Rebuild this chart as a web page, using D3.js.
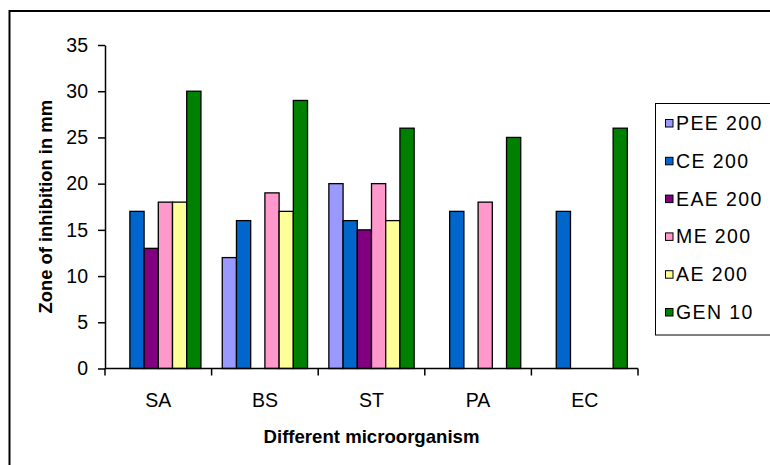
<!DOCTYPE html>
<html>
<head>
<meta charset="utf-8">
<script src="https://cdn.jsdelivr.net/npm/d3@7"></script>
<style>
  html, body { margin: 0; padding: 0; background: #fff; }
  svg { display: block; font-family: "Liberation Sans", Arial, sans-serif; }
</style>
</head>
<body>
<svg id="chart" width="770" height="465"></svg>
<script>
const categories = ["SA", "BS", "ST", "PA", "EC"];
const seriesNames = ["PEE 200", "CE 200", "EAE 200", "ME 200", "AE 200", "GEN 10"];
const peeValues = [null, 12, 20, null, null];
const ceValues  = [17, 16, 16, 17, 17];
const eaeValues = [13, null, 15, null, null];
const meValues  = [18, 19, 20, 18, null];
const aeValues  = [18, 17, 16, null, null];
const genValues = [30, 29, 26, 25, 26];
const yTicks = [0, 5, 10, 15, 20, 25, 30, 35];
const colors = ["#9999FF", "#0066CC", "#800080", "#FF99CC", "#FFFF99", "#008000"];

const seriesValues = [peeValues, ceValues, eaeValues, meValues, aeValues, genValues];

const svg = d3.select("#chart");

// outer chart border
svg.append("rect")
  .attr("x", 9.5).attr("y", 11)
  .attr("width", 800).attr("height", 500)
  .attr("fill", "#fff").attr("stroke", "#000").attr("stroke-width", 2);

const plotLeft = 105, plotRight = 638, plotTop = 45, plotBottom = 368.5;

const x = d3.scaleBand().domain(categories).range([plotLeft, plotRight]).padding(0);
const y = d3.scaleLinear().domain([0, 35]).range([plotBottom, plotTop]);

const bw = x.bandwidth() / 7.5;
const x1 = d3.scaleBand().domain(seriesNames)
  .range([0.75 * bw, x.bandwidth() - 0.75 * bw]).padding(0);

// bars
const barData = [];
seriesNames.forEach((s, si) => {
  categories.forEach((c, ci) => {
    const v = seriesValues[si][ci];
    if (v !== null && v !== undefined) barData.push({ s, c, v, color: colors[si] });
  });
});

svg.append("g").selectAll("rect")
  .data(barData)
  .join("rect")
  .attr("x", d => x(d.c) + x1(d.s))
  .attr("y", d => y(d.v))
  .attr("width", x1.bandwidth())
  .attr("height", d => y(0) - y(d.v))
  .attr("fill", d => d.color)
  .attr("stroke", "#000")
  .attr("stroke-width", 1.3);

// y axis
const yAxis = svg.append("g")
  .attr("transform", `translate(${plotLeft},0)`)
  .call(d3.axisLeft(y).tickValues(yTicks).tickSize(7).tickPadding(10).tickSizeOuter(0));
yAxis.select(".domain").attr("stroke", "#000").attr("stroke-width", 1.5);
yAxis.selectAll(".tick line").attr("stroke", "#000").attr("stroke-width", 1.5);
yAxis.selectAll(".tick text")
  .attr("font-size", "19.5px").attr("fill", "#000")
  .attr("font-family", "'Liberation Sans', Arial, sans-serif");

// x axis
const boundaries = categories.map(c => x(c)).concat([x(categories[categories.length - 1]) + x.bandwidth()]);
const xAxis = svg.append("g");
xAxis.append("line")
  .attr("x1", plotLeft).attr("x2", plotRight)
  .attr("y1", y(0)).attr("y2", y(0))
  .attr("stroke", "#000").attr("stroke-width", 1.5);
xAxis.selectAll(".xt")
  .data(boundaries)
  .join("line")
  .attr("class", "xt")
  .attr("x1", d => d).attr("x2", d => d)
  .attr("y1", y(0)).attr("y2", y(0) + 7)
  .attr("stroke", "#000").attr("stroke-width", 1.5);
xAxis.selectAll(".xl")
  .data(categories)
  .join("text")
  .attr("class", "xl")
  .attr("x", d => x(d) + x.bandwidth() / 2)
  .attr("y", 407)
  .attr("text-anchor", "middle")
  .attr("font-size", "19.5px")
  .attr("fill", "#000")
  .text(d => d);

// axis titles
svg.append("text")
  .attr("x", (plotLeft + plotRight) / 2).attr("y", 443)
  .attr("text-anchor", "middle")
  .attr("font-size", "18.6px").attr("font-weight", "bold")
  .text("Different microorganism");

svg.append("text")
  .attr("transform", `translate(52,${(plotTop + plotBottom) / 2}) rotate(-90)`)
  .attr("text-anchor", "middle")
  .attr("font-size", "18.4px").attr("font-weight", "bold")
  .text("Zone of inhibition in mm");

// legend
const legend = svg.append("g");
legend.append("rect")
  .attr("x", 655.5).attr("y", 103.5)
  .attr("width", 200).attr("height", 231.5)
  .attr("fill", "#fff").attr("stroke", "#000").attr("stroke-width", 1);

const ly = d3.scalePoint().domain(seriesNames).range([123, 312]);
const items = legend.selectAll(".li")
  .data(seriesNames)
  .join("g")
  .attr("class", "li")
  .attr("transform", d => `translate(0,${ly(d)})`);
items.append("rect")
  .attr("x", 665.5).attr("y", -3.5)
  .attr("width", 7.5).attr("height", 7.5)
  .attr("fill", (d, i) => colors[i])
  .attr("stroke", "#000").attr("stroke-width", 1);
items.append("text")
  .attr("x", 676).attr("y", 7)
  .attr("font-size", "19.5px")
  .attr("letter-spacing", "1.4px")
  .attr("fill", "#000")
  .text(d => d);
</script>
</body>
</html>
